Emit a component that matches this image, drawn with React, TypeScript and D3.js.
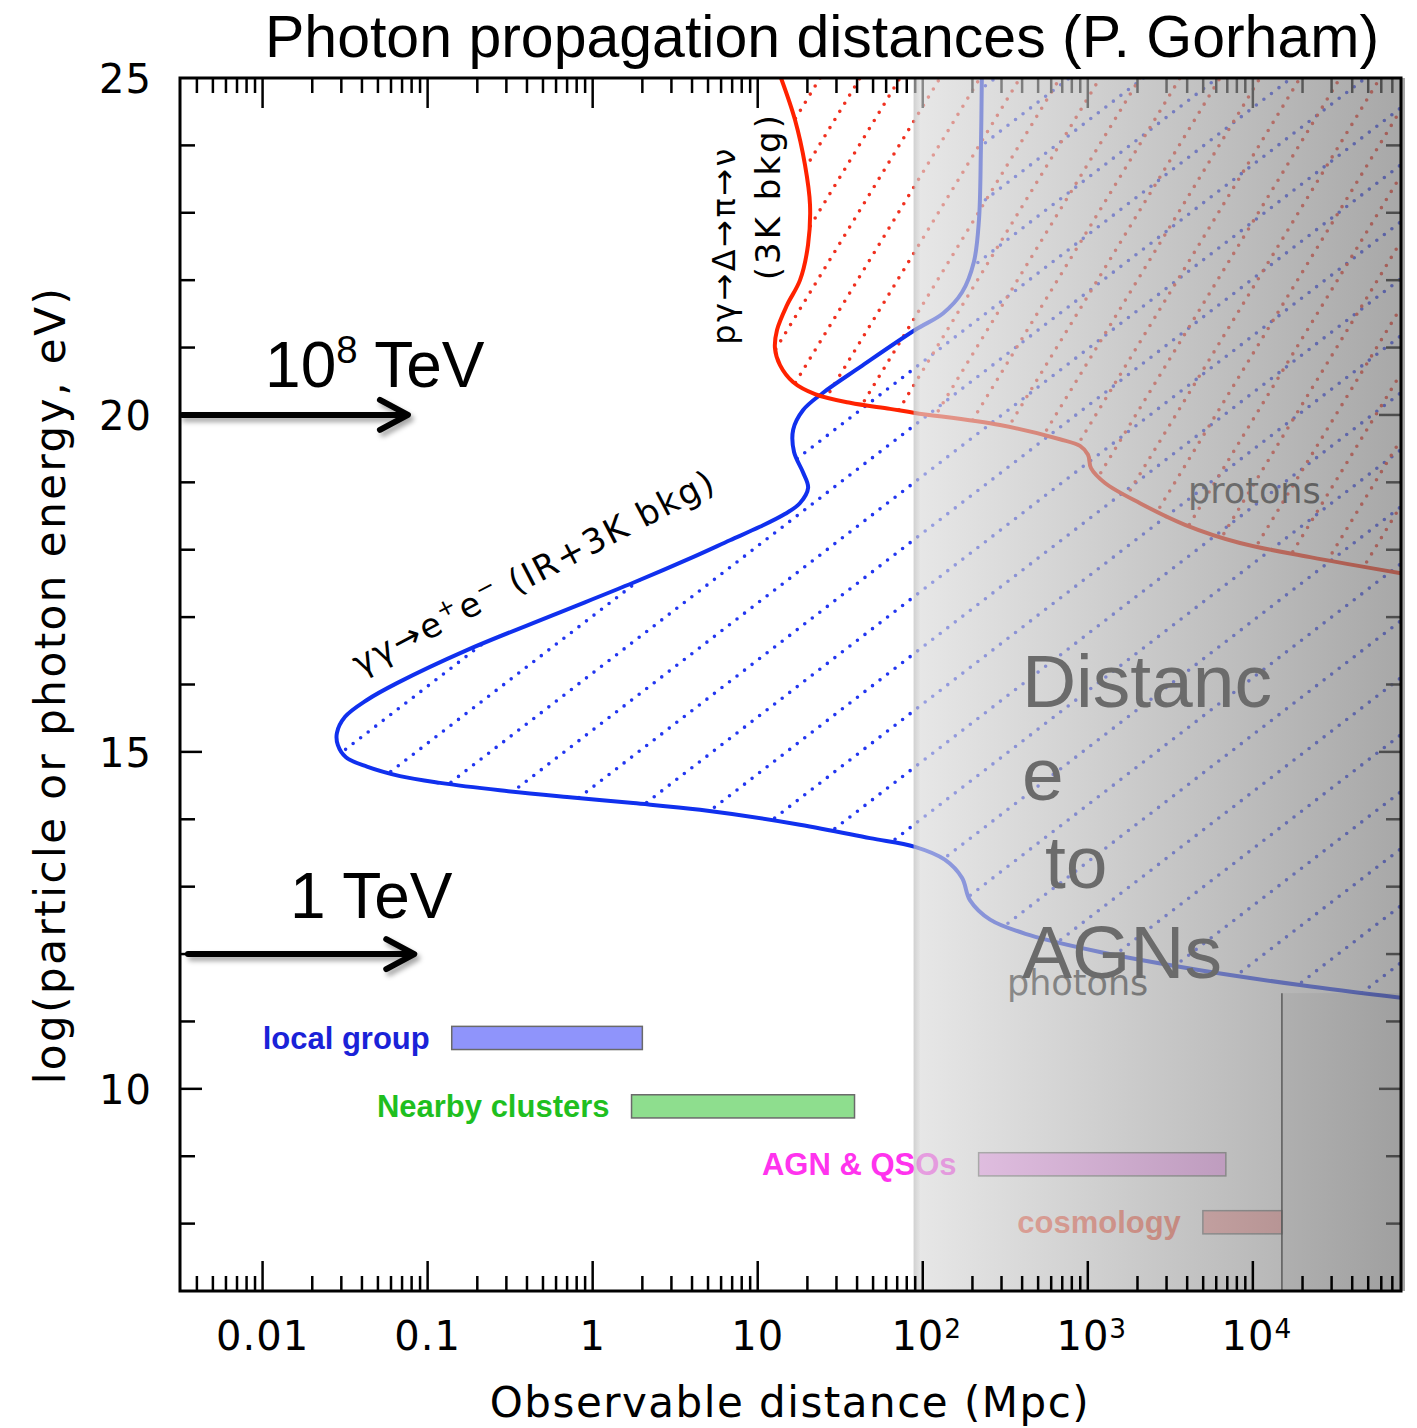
import React from "react";
import * as d3 from "d3";

const W = 1417;
const H = 1428;

// Axis domains
const X_DOMAIN: [number, number] = [0.00316, 79000];
const Y_DOMAIN: [number, number] = [7, 25];

// Tick labels
const xTickValues = [0.01, 0.1, 1, 10, 100, 1000, 10000];
const xTickLabels = ["0.01", "0.1", "1", "10", "10^2", "10^3", "10^4"];
const yTickValues = [10, 15, 20, 25];
const yTickLabels = ["10", "15", "20", "25"];

// γγ→e+e− horizon: distance (Mpc) vs log10(E/eV), traced top to bottom
const photonDist = [228, 225, 219, 204, 173, 133, 89.7, 41.7, 24.9, 18.8, 16.4, 16.6, 18.8, 20.2, 18.0, 14.6, 10.3, 6.79, 4.05, 1.76, 0.575, 0.173, 0.0652, 0.0429, 0.0316, 0.0282, 0.0286, 0.032, 0.0429, 0.068, 0.119, 0.274, 0.699, 1.76, 4.47, 18.0, 47.9, 89.7, 136, 173, 193, 256, 446, 1185, 4780, 19300, 79000];
const photonLogE = [25.0, 23.93, 22.89, 22.27, 21.82, 21.51, 21.26, 20.71, 20.33, 20.07, 19.78, 19.45, 19.15, 18.92, 18.69, 18.53, 18.34, 18.14, 17.89, 17.51, 17.03, 16.51, 16.02, 15.77, 15.52, 15.28, 15.1, 14.92, 14.78, 14.64, 14.54, 14.43, 14.33, 14.24, 14.14, 13.92, 13.72, 13.59, 13.4, 13.13, 12.8, 12.51, 12.28, 12.03, 11.76, 11.54, 11.35];

// pγ→Δ→π→ν horizon (protons)
const protonDist = [13.84, 16.82, 19.34, 20.74, 20.17, 18.04, 15.05, 13.09, 12.72, 13.65, 16.36, 22.24, 36.25, 63.3, 89.7, 293.8, 678, 897, 1003, 1046, 1271, 2071, 3880, 8358, 22200, 79000];
const protonLogE = [25.0, 24.38, 23.71, 23.12, 22.52, 22.0, 21.63, 21.26, 20.99, 20.74, 20.49, 20.31, 20.18, 20.09, 20.03, 19.85, 19.64, 19.54, 19.41, 19.21, 18.99, 18.69, 18.37, 18.1, 17.89, 17.65];

// Distance scale bars
const scaleNames = ["local group", "Nearby clusters", "AGN & QSOs", "cosmology"];
const scaleFrom = [0.14, 1.72, 218, 4980];
const scaleTo = [2.0, 38.6, 6860, 15000];
const scaleLogE = [10.755, 9.74, 8.88, 8.02];
const scaleHalfHeight = 0.172;

// Energy arrows
const arrowLogE = [20, 12];
const arrowTip = [0.076, 0.083];
const arrowLabels = ["10^8 TeV", "1 TeV"];
const arrowLabelDist = [0.01035, 0.01466];
const arrowLabelLogE = [20.41, 12.54];

// Overlay / horizon
const agnOverlayFrom = 88;
const hubbleDist = 15000;
const hubbleTopLogE = 11.42;

const barFill = ["#8f94fb", "#8ede8e", "#ffa0ff", "#ff9f9f"];
const labelFill = ["#1a22d8", "#1fbf1f", "#ff33ee", "#ff5a40"];

const AX = "'DejaVu Sans', 'Verdana', sans-serif";
const AR = "'Liberation Sans', Arial, Helvetica, sans-serif";

function SupText({ label, x, y, size, anchor, fill, sup }: any) {
  const parts = label.split("^");
  if (parts.length === 1) {
    return (
      <text x={x} y={y} fontSize={size} textAnchor={anchor} fill={fill} fontFamily={sup.family} letterSpacing={sup.ls}>
        {label}
      </text>
    );
  }
  const rest = parts[1].split(" ");
  const expo = rest[0];
  const tail = rest.slice(1).join(" ");
  return (
    <text x={x} y={y} fontSize={size} textAnchor={anchor} fill={fill} fontFamily={sup.family} letterSpacing={sup.ls}>
      {parts[0]}
      <tspan fontSize={size * sup.scale} dy={-size * sup.raise}>{expo}</tspan>
      {tail ? <tspan dy={size * sup.raise} fontSize={size}>{" " + tail}</tspan> : null}
    </text>
  );
}

export default function App() {
  const x = d3.scaleLog().domain(X_DOMAIN).range([180, 1401]);
  const y = d3.scaleLinear().domain(Y_DOMAIN).range([1291, 78]);
  const [x0, x1] = x.range();
  const [yb, yt] = y.range();

  const line = d3
    .line<[number, number]>()
    .x((d) => x(d[0]))
    .y((d) => y(d[1]))
    .curve(d3.curveCatmullRom.alpha(0.5));

  const photonPts = photonDist.map((d, i) => [d, photonLogE[i]] as [number, number]);
  const protonPts = protonDist.map((d, i) => [d, protonLogE[i]] as [number, number]);
  const photonPath = line(photonPts) as string;
  const protonPath = line(protonPts) as string;
  const photonClip = photonPath + `L${x1 + 5},${yb}L${x1 + 5},${yt - 5}Z`;
  const protonClip = protonPath + `L${x1 + 5},${yt - 5}Z`;

  const hatch = (slope: number, step: number, ax: number, ay: number) => {
    const c0 = ay + slope * ax;
    const cmin = yt + slope * x0;
    const cmax = yb + slope * x1;
    const segs: string[] = [];
    let c = c0 + Math.floor((cmin - c0) / step) * step;
    for (; c <= cmax + step; c += step) {
      segs.push(`M${x0},${c - slope * x0}L${x1},${c - slope * x1}`);
    }
    return segs.join("");
  };
  const blueHatch = hatch(0.77, 57, 385, 776);
  const redHatch = hatch(1.65, 66, 820, 78);

  // ticks
  const xMinor: number[] = [];
  for (let k = -3; k <= 5; k++) {
    for (let m = 1; m <= 9; m++) {
      const v = m * Math.pow(10, k);
      if (v >= X_DOMAIN[0] && v <= X_DOMAIN[1]) xMinor.push(v);
    }
  }
  const isMajor = (v: number) => Math.abs(Math.log10(v) - Math.round(Math.log10(v))) < 1e-6;
  const yAll = d3.range(Y_DOMAIN[0] + 1, Y_DOMAIN[1], 1);

  const ox = x(agnOverlayFrom);

  return (
    <svg width={W} height={H} style={{ position: "absolute", left: 0, top: 0, background: "#fff" }} xmlns="http://www.w3.org/2000/svg">
      <defs>
        <clipPath id="plot">
          <rect x={x0} y={yt} width={x1 - x0} height={yb - yt} />
        </clipPath>
        <clipPath id="photonRegion">
          <path d={photonClip} />
        </clipPath>
        <clipPath id="protonRegion">
          <path d={protonClip} />
        </clipPath>
        <linearGradient id="agnGrad" x1="0" x2="1" y1="0" y2="0">
          <stop offset="0" stopColor="rgb(218,218,218)" stopOpacity={0.64} />
          <stop offset="1" stopColor="rgb(118,118,118)" stopOpacity={0.64} />
        </linearGradient>
        <linearGradient id="edgeShade" x1="0" x2="1" y1="0" y2="0">
          <stop offset="0" stopColor="#000" stopOpacity={0.1} />
          <stop offset="1" stopColor="#000" stopOpacity={0} />
        </linearGradient>
        <filter id="shadow" x="-10%" y="-50%" width="130%" height="250%">
          <feDropShadow dx="3" dy="4" stdDeviation="2.5" floodColor="#000" floodOpacity="0.35" />
        </filter>
      </defs>

      <rect x={0} y={0} width={W} height={H} fill="#fff" />

      {/* hatching */}
      <g clipPath="url(#plot)">
        <g clipPath="url(#photonRegion)">
          <path d={blueHatch} stroke="#2236f0" strokeWidth={3.6} strokeDasharray="0 9.5" strokeLinecap="round" fill="none" />
        </g>
        <g clipPath="url(#protonRegion)">
          <path d={redHatch} stroke="#f0301f" strokeWidth={3.6} strokeDasharray="0 9.5" strokeLinecap="round" fill="none" />
        </g>
        <path d={photonPath} stroke="#1030ee" strokeWidth={4} fill="none" />
        <path d={protonPath} stroke="#ff2200" strokeWidth={4} fill="none" />
      </g>

      {/* curve labels */}
      <text
        transform={`translate(${x(7.29)},${y(21.04)}) rotate(-90)`}
        fontFamily={AX}
        fontSize={32}
        letterSpacing={2.5}
        fill="#000"
      >
        pγ→Δ→π→ν
      </text>
      <text
        transform={`translate(${x(13.65)},${y(22.0)}) rotate(-90)`}
        fontFamily={AX}
        fontSize={34}
        letterSpacing={3}
        fill="#000"
      >
        (3K bkg)
      </text>
      <text
        transform={`translate(${x(0.0389)},${y(16.13)}) rotate(-27.5)`}
        fontFamily={AX}
        fontSize={34}
        letterSpacing={2}
        fill="#000"
      >
        γγ→e
        <tspan fontSize={23} dy={-13}>+</tspan>
        <tspan fontSize={34} dy={13}>e</tspan>
        <tspan fontSize={23} dy={-13}>−</tspan>
        <tspan fontSize={34} dy={13}>{"  (IR+3K  bkg)"}</tspan>
      </text>
      <text x={x(4046)} y={y(18.69)} fontFamily={AX} fontSize={35} fill="#1a1a1a">protons</text>
      <text x={x(323.8)} y={y(11.39)} fontFamily={AX} fontSize={35} fill="#1a1a1a">photons</text>

      {/* distance scale bars */}
      {scaleNames.map((name, i) => (
        <g key={name}>
          <rect
            x={x(scaleFrom[i])}
            y={y(scaleLogE[i] + scaleHalfHeight)}
            width={x(scaleTo[i]) - x(scaleFrom[i])}
            height={y(scaleLogE[i] - scaleHalfHeight) - y(scaleLogE[i] + scaleHalfHeight)}
            fill={barFill[i]}
            stroke="#6a6a6a"
            strokeWidth={1.5}
          />
          <text
            x={x(scaleFrom[i]) - 22}
            y={y(scaleLogE[i]) + 11}
            textAnchor="end"
            fontFamily={AR}
            fontWeight="bold"
            fontSize={31}
            fill={labelFill[i]}
          >
            {name}
          </text>
        </g>
      ))}

      {/* top / left / right ticks (under overlay) */}
      <g stroke="#000" strokeWidth={2.5}>
        {xMinor.map((v) => (
          <line key={"t" + v} x1={x(v)} x2={x(v)} y1={yt} y2={yt + (isMajor(v) ? 30 : 15)} />
        ))}
        {yAll.map((v) => (
          <line key={"l" + v} x1={x0} x2={x0 + (v % 5 === 0 ? 22 : 15)} y1={y(v)} y2={y(v)} />
        ))}
        {yAll.map((v) => (
          <line key={"r" + v} x1={x1} x2={x1 - (v % 5 === 0 ? 22 : 15)} y1={y(v)} y2={y(v)} />
        ))}
      </g>

      {/* AGN distance overlay */}
      <rect x={ox} y={yt} width={x1 - ox + 4} height={yb - yt} fill="url(#agnGrad)" />
      <rect x={ox} y={yt} width={7} height={yb - yt} fill="url(#edgeShade)" />
      <rect
        x={x(hubbleDist)}
        y={y(hubbleTopLogE)}
        width={x1 - x(hubbleDist)}
        height={yb - y(hubbleTopLogE)}
        fill="#000"
        opacity={0.045}
      />
      <line x1={x(hubbleDist)} x2={x(hubbleDist)} y1={y(hubbleTopLogE)} y2={yb} stroke="#5a5a5a" strokeWidth={1.5} />

      <text fontFamily={AR} fontSize={75} fill="#6b6b6b" xmlSpace="preserve">
        <tspan x={x(399)} y={y(15.67)}>Distanc</tspan>
        <tspan x={x(399)} y={y(14.29)}>e</tspan>
        <tspan x={x(550)} y={y(12.98)}>to</tspan>
        <tspan x={x(399)} y={y(11.64)}>AGNs</tspan>
      </text>

      {/* bottom ticks */}
      <g stroke="#000" strokeWidth={2.5}>
        {xMinor.map((v) => (
          <line key={"b" + v} x1={x(v)} x2={x(v)} y1={yb} y2={yb - (isMajor(v) ? 30 : 15)} />
        ))}
      </g>

      {/* frame */}
      <rect x={x0} y={yt} width={x1 - x0} height={yb - yt} fill="none" stroke="#000" strokeWidth={3} />

      {/* arrows */}
      {arrowLogE.map((e, i) => {
        const ty = y(e);
        const tx = x(arrowTip[i]);
        return (
          <g key={"a" + i} filter="url(#shadow)" stroke="#000" strokeWidth={6} fill="none" strokeLinecap="round" strokeLinejoin="round">
            <line x1={x0 + (i === 0 ? 2 : 8)} x2={tx - 3} y1={ty} y2={ty} />
            <polyline points={`${tx - 28},${ty - 15} ${tx},${ty} ${tx - 28},${ty + 15}`} />
          </g>
        );
      })}
      {arrowLabels.map((lab, i) => (
        <SupText
          key={lab}
          label={lab}
          x={x(arrowLabelDist[i])}
          y={y(arrowLabelLogE[i])}
          size={64}
          anchor="start"
          fill="#000"
          sup={{ family: AR, scale: 0.6, raise: 0.38, ls: 0 }}
        />
      ))}

      {/* tick labels */}
      {xTickValues.map((v, i) => (
        <SupText
          key={"xl" + v}
          label={xTickLabels[i]}
          x={x(v) + (xTickLabels[i].includes("^") ? 4 : 0)}
          y={1350}
          size={40}
          anchor="middle"
          fill="#000"
          sup={{ family: AX, scale: 0.66, raise: 0.3, ls: 1 }}
        />
      ))}
      {yTickValues.map((v, i) => (
        <text key={"yl" + v} x={152} y={y(v) + 15} textAnchor="end" fontFamily={AX} fontSize={40} letterSpacing={1} fill="#000">
          {yTickLabels[i]}
        </text>
      ))}

      {/* axis titles */}
      <text x={790} y={1417} textAnchor="middle" fontFamily={AX} fontSize={42} letterSpacing={1.5} fill="#000">
        Observable distance (Mpc)
      </text>
      <text transform="translate(65,685) rotate(-90)" textAnchor="middle" fontFamily={AX} fontSize={42} letterSpacing={2.5} fill="#000">
        log(particle or photon energy, eV)
      </text>

      {/* title */}
      <text x={265} y={57} fontFamily={AR} fontSize={59} fill="#000">
        Photon propagation distances (P. Gorham)
      </text>
    </svg>
  );
}
